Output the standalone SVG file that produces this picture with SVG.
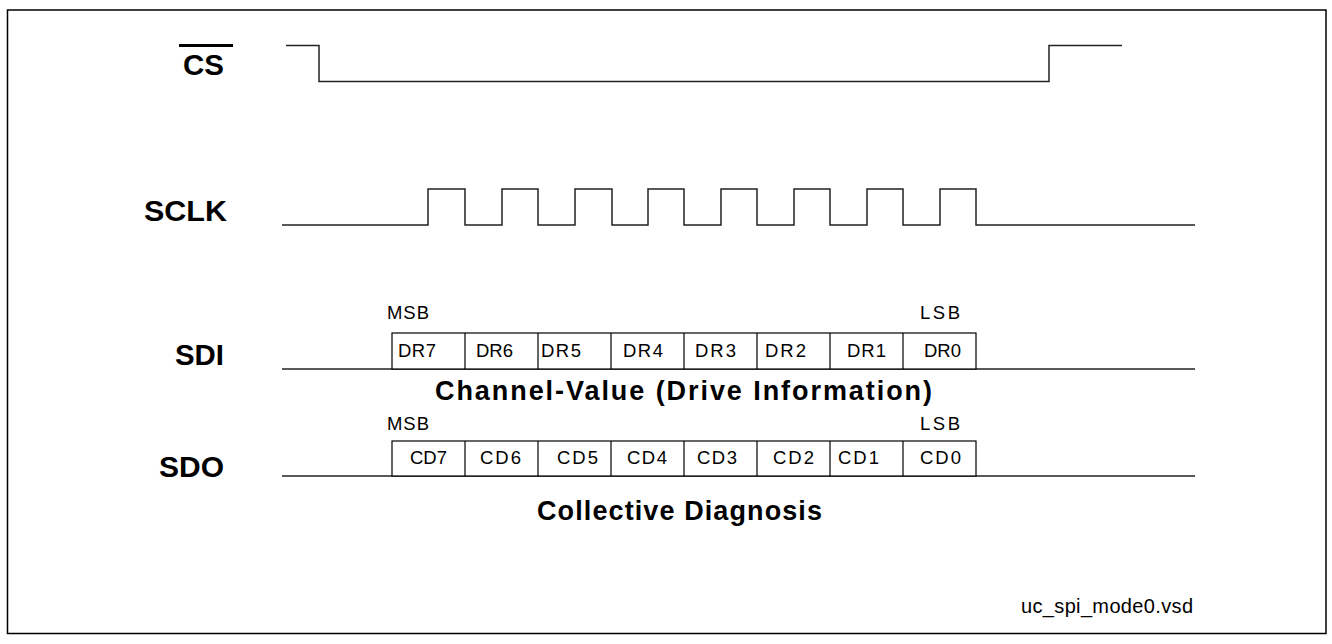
<svg xmlns="http://www.w3.org/2000/svg" width="1332" height="644" viewBox="0 0 1332 644">
<style>
.bg{fill:#fff}
.frame{fill:none;stroke:#000;stroke-width:1.5}
.sig{fill:none;stroke:#222;stroke-width:1.5}
.box{fill:#fff;stroke:#000;stroke-width:1.2}
.lbl{font-family:"Liberation Sans",Arial,sans-serif;font-weight:bold;font-size:29px;fill:#000}
.cap{font-family:"Liberation Sans",Arial,sans-serif;font-weight:bold;font-size:27px;fill:#000}
.bit{font-family:"Liberation Sans",Arial,sans-serif;font-size:18.5px;fill:#000}
.note{font-family:"Liberation Sans",Arial,sans-serif;font-size:20px;fill:#000}
</style>
<rect class="bg" x="0" y="0" width="1332" height="644"/>
<rect class="frame" x="7.5" y="10" width="1318.5" height="623.5"/>

<g id="label-cs">
<text class="lbl" x="183" y="75" textLength="41" lengthAdjust="spacingAndGlyphs">CS</text>
<line x1="179" y1="45.5" x2="233" y2="45.5" stroke="#000" stroke-width="3"/>
</g>
<g id="label-sclk"><text class="lbl" x="144" y="221" textLength="83" lengthAdjust="spacingAndGlyphs">SCLK</text></g>
<g id="label-sdi"><text class="lbl" x="175" y="365" textLength="49" lengthAdjust="spacingAndGlyphs">SDI</text></g>
<g id="label-sdo"><text class="lbl" x="159" y="477" textLength="65" lengthAdjust="spacingAndGlyphs">SDO</text></g>

<g id="connectors">
<path id="cs-wave" class="sig" d="M286,45.5 H319 V81.5 H1049 V45.5 H1122"/>
<path id="sclk-wave" class="sig" d="M282,225 H428 V189 H465 V225 H502 V189 H538 V225 H575 V189 H612 V225 H648 V189 H684 V225 H721 V189 H757 V225 H794 V189 H830 V225 H867 V189 H903 V225 H940 V189 H976 V225 H1195"/>
<line id="sdi-line" class="sig" x1="282" y1="369" x2="1195" y2="369"/>
<line id="sdo-line" class="sig" x1="282" y1="476" x2="1195" y2="476"/>
</g>

<g id="sdi-frame">
<rect class="box" x="392" y="333" width="584" height="36"/>
<path class="box" d="M465,333V369 M538,333V369 M611,333V369 M684,333V369 M757,333V369 M830,333V369 M903,333V369"/>
<text class="bit" x="387" y="319" textLength="42" lengthAdjust="spacing">MSB</text>
<text class="bit" x="920" y="319" textLength="40" lengthAdjust="spacing">LSB</text>
<text class="bit" x="398" y="357" textLength="38" lengthAdjust="spacing">DR7</text>
<text class="bit" x="476" y="357" textLength="37" lengthAdjust="spacing">DR6</text>
<text class="bit" x="541" y="357" textLength="40" lengthAdjust="spacing">DR5</text>
<text class="bit" x="623" y="357" textLength="40" lengthAdjust="spacing">DR4</text>
<text class="bit" x="695" y="357" textLength="41" lengthAdjust="spacing">DR3</text>
<text class="bit" x="765" y="357" textLength="41" lengthAdjust="spacing">DR2</text>
<text class="bit" x="847" y="357" textLength="39" lengthAdjust="spacing">DR1</text>
<text class="bit" x="924" y="357" textLength="37" lengthAdjust="spacing">DR0</text>
<text class="cap" x="435" y="400" textLength="497" lengthAdjust="spacing">Channel-Value (Drive Information)</text>
</g>

<g id="sdo-frame">
<rect class="box" x="392" y="441" width="584" height="35"/>
<path class="box" d="M465,441V476 M538,441V476 M611,441V476 M684,441V476 M757,441V476 M830,441V476 M903,441V476"/>
<text class="bit" x="387" y="430" textLength="42" lengthAdjust="spacing">MSB</text>
<text class="bit" x="920" y="430" textLength="40" lengthAdjust="spacing">LSB</text>
<text class="bit" x="410" y="464" textLength="37" lengthAdjust="spacing">CD7</text>
<text class="bit" x="480" y="464" textLength="41" lengthAdjust="spacing">CD6</text>
<text class="bit" x="557" y="464" textLength="41" lengthAdjust="spacing">CD5</text>
<text class="bit" x="627" y="464" textLength="40" lengthAdjust="spacing">CD4</text>
<text class="bit" x="697" y="464" textLength="40" lengthAdjust="spacing">CD3</text>
<text class="bit" x="773" y="464" textLength="41" lengthAdjust="spacing">CD2</text>
<text class="bit" x="838" y="464" textLength="41" lengthAdjust="spacing">CD1</text>
<text class="bit" x="920" y="464" textLength="41" lengthAdjust="spacing">CD0</text>
<text class="cap" x="537" y="520" textLength="285" lengthAdjust="spacing">Collective Diagnosis</text>
</g>

<g id="filename"><text class="note" x="1021" y="613" textLength="172" lengthAdjust="spacing">uc_spi_mode0.vsd</text></g>
</svg>
